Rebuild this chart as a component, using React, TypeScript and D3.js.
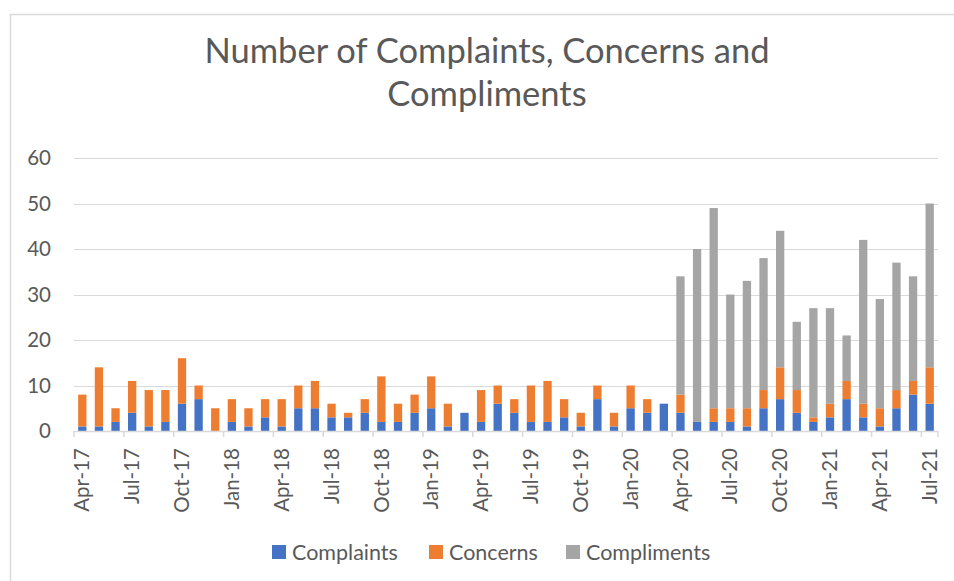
import React from "react";
import * as d3 from "d3";

const months = [
  "Apr-17","May-17","Jun-17","Jul-17","Aug-17","Sep-17","Oct-17","Nov-17","Dec-17","Jan-18","Feb-18","Mar-18",
  "Apr-18","May-18","Jun-18","Jul-18","Aug-18","Sep-18","Oct-18","Nov-18","Dec-18","Jan-19","Feb-19","Mar-19",
  "Apr-19","May-19","Jun-19","Jul-19","Aug-19","Sep-19","Oct-19","Nov-19","Dec-19","Jan-20","Feb-20","Mar-20",
  "Apr-20","May-20","Jun-20","Jul-20","Aug-20","Sep-20","Oct-20","Nov-20","Dec-20","Jan-21","Feb-21","Mar-21",
  "Apr-21","May-21","Jun-21","Jul-21",
];

const complaints = [
  1,1,2,4,1,2,6,7,0,2,1,3,
  1,5,5,3,3,4,2,2,4,5,1,4,
  2,6,4,2,2,3,1,7,1,5,4,6,
  4,2,2,2,1,5,7,4,2,3,7,3,
  1,5,8,6,
];
const concerns = [
  7,13,3,7,8,7,10,3,5,5,4,4,
  6,5,6,3,1,3,10,4,4,7,5,0,
  7,4,3,8,9,4,3,3,3,5,3,0,
  4,0,3,3,4,4,7,5,1,3,4,3,
  4,4,3,8,
];
const compliments = [
  0,0,0,0,0,0,0,0,0,0,0,0,
  0,0,0,0,0,0,0,0,0,0,0,0,
  0,0,0,0,0,0,0,0,0,0,0,0,
  26,38,44,25,28,29,30,15,24,21,10,36,
  24,28,23,36,
];

const seriesNames = ["Complaints", "Concerns", "Compliments"];
const seriesColors = ["#4472C4", "#ED7D31", "#A5A5A5"];
const yTicks = [0, 10, 20, 30, 40, 50, 60];
const titleLines = ["Number of Complaints, Concerns and", "Compliments"];

const W = 954;
const H = 581;
const FONT = "Lato, 'Open Sans', sans-serif";
const TEXT = "#595959";
const GRID = "#D9D9D9";

export default function App() {
  const left = 74;
  const right = 938;
  const top = 158;
  const bottom = 431;

  const x = d3.scaleBand<string>().domain(months).range([left, right]).paddingInner(0.5).paddingOuter(0.25);
  const xCat = d3.scaleBand<string>().domain(months).range([left, right]);
  const y = d3.scaleLinear().domain([0, 60]).range([bottom, top]);

  const table = months.map((m, i) => ({
    month: m,
    Complaints: complaints[i],
    Concerns: concerns[i],
    Compliments: compliments[i],
  }));
  const stacked = d3.stack<any>().keys(seriesNames)(table);

  const legendItems = [
    { name: "Complaints", x: 272 },
    { name: "Concerns", x: 429 },
    { name: "Compliments", x: 566 },
  ];

  return (
    <svg width={W} height={H} style={{ position: "absolute", left: 0, top: 0, background: "#fff" }} fontFamily={FONT}>
      <rect x={0} y={0} width={W} height={H} fill="#fff" />
      <rect x={10.5} y={14.5} width={1000} height={1000} fill="none" stroke={GRID} strokeWidth={1.5} />
      {titleLines.map((t, i) => (
        <text key={t} x={487} y={63 + i * 43} textAnchor="middle" fontSize={34.5} fill={TEXT}>
          {t}
        </text>
      ))}
      {yTicks.map((v) => (
        <g key={v}>
          {v > 0 && (
            <line x1={left} x2={right} y1={Math.round(y(v)) + 0.5} y2={Math.round(y(v)) + 0.5} stroke={GRID} strokeWidth={1.2} />
          )}
          <text x={51} y={y(v)} dy="0.35em" textAnchor="end" fontSize={20.5} fill={TEXT}>
            {v}
          </text>
        </g>
      ))}
      {stacked.map((s, si) => (
        <g key={s.key} fill={seriesColors[si]}>
          {s.map((d, i) => {
            const h = y(d[0]) - y(d[1]);
            if (h <= 0) return null;
            return <rect key={i} x={x(months[i])} y={y(d[1])} width={x.bandwidth()} height={h} />;
          })}
        </g>
      ))}
      <line x1={left} x2={right} y1={bottom + 0.5} y2={bottom + 0.5} stroke={GRID} strokeWidth={1.5} />
      {months.map((m, i) =>
        i % 3 === 0 ? (
          <g key={m}>
            <line x1={xCat(m)} x2={xCat(m)} y1={bottom} y2={bottom + 6} stroke={GRID} strokeWidth={1.5} />
            <text
              transform={`translate(${(xCat(m) as number) + xCat.bandwidth() / 2},${448}) rotate(-90)`}
              textAnchor="end"
              dy="0.35em"
              fontSize={20.5}
              fill={TEXT}
            >
              {m}
            </text>
          </g>
        ) : null
      )}
      <line x1={right} x2={right} y1={bottom} y2={bottom + 6} stroke={GRID} strokeWidth={1.5} />
      {legendItems.map((it, i) => (
        <g key={it.name}>
          <rect x={it.x} y={545} width={14} height={14} fill={seriesColors[i]} />
          <text x={it.x + 20} y={552} dy="0.35em" fontSize={21.5} fill={TEXT}>
            {it.name}
          </text>
        </g>
      ))}
    </svg>
  );
}
